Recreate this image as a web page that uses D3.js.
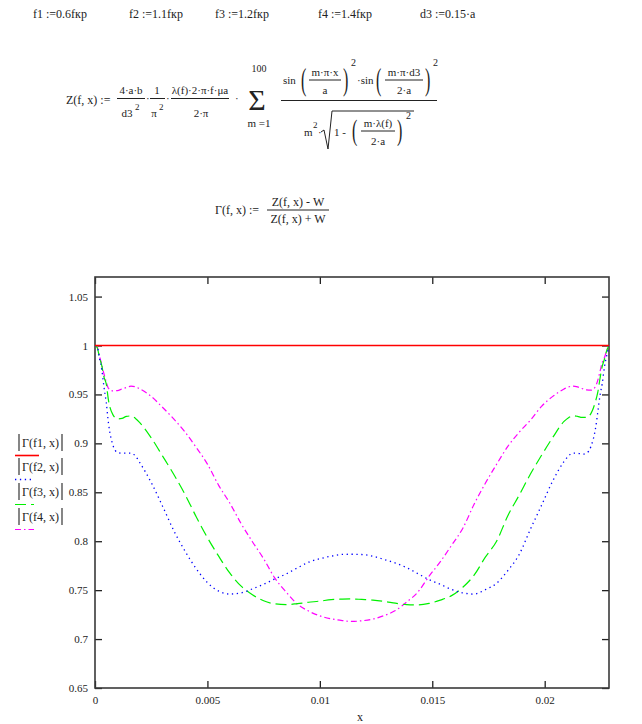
<!DOCTYPE html>
<html>
<head>
<meta charset="utf-8">
<script src="https://cdn.jsdelivr.net/npm/d3@7"></script>
<style>
html,body{margin:0;padding:0;background:#fff;}
svg text{font-family:"Liberation Serif","DejaVu Serif",serif;fill:#222;}
</style>
</head>
<body>
<svg id="c" width="642" height="724"></svg>
<script>
// ---------------- DATA ----------------
const xTicks = [0, 0.005, 0.01, 0.015, 0.02];
const yTicks = [0.65, 0.7, 0.75, 0.8, 0.85, 0.9, 0.95, 1, 1.05];
const xDomain = [0, 0.02286];
const yDomain = [0.65, 1.07];

const seriesNames = ["Γ(f1, x)", "Γ(f2, x)", "Γ(f3, x)", "Γ(f4, x)"];

const xF1 = [0, 0.02286];
const gammaF1 = [1, 1];

const xGrid = [0, 0.0001, 0.0002, 0.0003, 0.0004, 0.0005, 0.0006, 0.0008, 0.0010, 0.0012,
  0.0014, 0.0016, 0.0018, 0.0020, 0.0025, 0.0030, 0.0035, 0.0040, 0.0045, 0.0050,
  0.0055, 0.0060, 0.0065, 0.0070, 0.0075, 0.0080, 0.0085, 0.0090, 0.0095, 0.0100,
  0.0105, 0.0110, 0.01143,
  0.01186, 0.01236, 0.01286, 0.01336, 0.01386, 0.01436, 0.01486, 0.01536, 0.01586, 0.01636,
  0.01686, 0.01736, 0.01786, 0.01836, 0.01886, 0.01936, 0.01986, 0.02036, 0.02086,
  0.02106, 0.02126, 0.02146, 0.02166, 0.02186, 0.02206,
  0.02226, 0.02236, 0.02246, 0.02256, 0.02266, 0.02276, 0.02286];

const gammaF2 = [1.000, 0.9983, 0.9867, 0.9755, 0.9574, 0.9418, 0.9204, 0.898, 0.8908, 0.890,
  0.890, 0.890, 0.887, 0.880, 0.860, 0.836, 0.811, 0.790, 0.772, 0.7577,
  0.749, 0.746, 0.7472, 0.7513, 0.756, 0.7615, 0.7665, 0.7727, 0.7786, 0.7821,
  0.7847, 0.7865, 0.7867,
  0.7864, 0.7847, 0.7813, 0.7777, 0.773, 0.7668, 0.7607, 0.7559, 0.7507, 0.7472,
  0.746, 0.7505, 0.757, 0.770, 0.7862, 0.812, 0.8367, 0.8617, 0.8815,
  0.8872, 0.890, 0.890, 0.889, 0.890, 0.897,
  0.9153, 0.9316, 0.949, 0.9612, 0.9786, 0.9898, 1.0];

const gammaF3 = [1.0, 0.9977, 0.9878, 0.9796, 0.9677, 0.9607, 0.9439, 0.9291, 0.925, 0.9255,
  0.9276, 0.928, 0.9255, 0.9209, 0.9056, 0.8872, 0.8684, 0.848, 0.825, 0.8036,
  0.7847, 0.7673, 0.7541, 0.7454, 0.7391, 0.736, 0.7352, 0.7362, 0.7376, 0.7388,
  0.7403, 0.7408, 0.741,
  0.7405, 0.7398, 0.7385, 0.7367, 0.7352, 0.7349, 0.7364, 0.7398, 0.7444, 0.753,
  0.7653, 0.7837, 0.80, 0.826, 0.8469, 0.8684, 0.8878, 0.9061, 0.9224,
  0.9262, 0.9282, 0.9276, 0.9265, 0.9265, 0.9306,
  0.9429, 0.952, 0.9663, 0.9786, 0.9862, 0.9949, 1.0];

const gammaF4 = [1.0, 0.9985, 0.9888, 0.9806, 0.9709, 0.9628, 0.9561, 0.9536, 0.9539, 0.9556,
  0.9571, 0.9584, 0.9577, 0.9556, 0.948, 0.9369, 0.925, 0.9117, 0.8959, 0.8788,
  0.8571, 0.8388, 0.8179, 0.7995, 0.7821, 0.7622, 0.748, 0.7357, 0.7286, 0.7237,
  0.7207, 0.7189, 0.718,
  0.7187, 0.7204, 0.724, 0.7291, 0.7378, 0.748, 0.7643, 0.7791, 0.7959, 0.8133,
  0.8378, 0.8592, 0.8786, 0.8969, 0.9112, 0.9235, 0.9378, 0.948, 0.9556,
  0.9577, 0.9584, 0.9577, 0.9561, 0.9546, 0.9543,
  0.9582, 0.9643, 0.9735, 0.9827, 0.9878, 0.9949, 1.0];

// ---------------- DRAWING ----------------
const svg = d3.select("#c");

function T(x, y, s, o) {
  o = o || {};
  const t = svg.append("text").attr("x", x).attr("y", y).text(s)
    .attr("font-size", o.size || 12);
  if (o.anchor) t.attr("text-anchor", o.anchor);
  if (o.style) t.attr("font-style", o.style);
  return t;
}
function L(x1, y1, x2, y2, w) {
  svg.append("line").attr("x1", x1).attr("y1", y1).attr("x2", x2).attr("y2", y2)
    .attr("stroke", "#222").attr("stroke-width", w || 1);
}
// tall thin bracket drawn as text scaled vertically
function B(x, yc, s, h) {
  svg.append("text").attr("transform", `translate(${x},${yc}) scale(1,${h})`)
    .attr("x", 0).attr("y", 5).attr("font-size", 16).text(s);
}

// top definitions
T(33, 18, "f1 :=0.6fкр");
T(129, 18, "f2 :=1.1fкр");
T(215, 18, "f3 :=1.2fкр");
T(318, 18, "f4 :=1.4fкр");
T(420, 18, "d3 :=0.15·a");

// Z(f,x) formula
T(66, 104, "Z(f, x) :=");
T(131, 94, "4·a·b", {anchor: "middle", size: 11});
L(117, 98.5, 145, 98.5);
T(127, 117, "d3", {anchor: "middle", size: 11});
T(135, 110, "2", {size: 9});
T(146, 102, "·", {size: 11});
T(157, 94, "1", {anchor: "middle", size: 11});
L(150, 98.5, 165, 98.5);
T(154, 117, "π", {anchor: "middle", size: 11});
T(159, 110, "2", {size: 9});
T(166, 102, "·", {size: 11});
T(200, 94, "λ(f)·2·π·f·μa", {anchor: "middle", size: 11});
L(171, 98.5, 229, 98.5);
T(201, 117, "2·π", {anchor: "middle", size: 11});
T(235, 102, "·", {size: 11});
T(257, 110, "Σ", {anchor: "middle", size: 30});
T(259, 72, "100", {anchor: "middle", size: 10});
T(259, 127, "m =1", {anchor: "middle", size: 11});
// big fraction
L(281, 100.5, 437, 100.5);
T(283, 84, "sin", {size: 11});
B(301, 80, "(", 2.0);
T(325, 76, "m·π·x", {anchor: "middle", size: 11});
L(309, 80, 341, 80);
T(325, 94, "a", {anchor: "middle", size: 11});
B(343, 80, ")", 2.0);
T(351, 66, "2", {size: 10});
T(357, 84, "·sin", {size: 11});
B(376, 80, "(", 2.0);
T(404, 76, "m·π·d3", {anchor: "middle", size: 11});
L(385, 80, 423, 80);
T(404, 94, "2·a", {anchor: "middle", size: 11});
B(425, 80, ")", 2.0);
T(433, 66, "2", {size: 10});
// denominator
T(304, 136, "m", {size: 11});
T(313, 128, "2", {size: 9});
T(318, 136, "·", {size: 11});
svg.append("path").attr("d", "M321,132 L324,130 L328,149 L332,111 L414,111")
  .attr("fill", "none").attr("stroke", "#222").attr("stroke-width", 1);
T(334, 136, "1 -", {size: 11});
B(352, 131, "(", 1.8);
T(378, 127, "m·λ(f)", {anchor: "middle", size: 11});
L(361, 131, 395, 131);
T(378, 145, "2·a", {anchor: "middle", size: 11});
B(397, 131, ")", 1.8);
T(406, 119, "2", {size: 10});

// Γ formula
T(215, 214, "Γ(f, x) :=");
T(298, 206, "Z(f, x) -  W", {anchor: "middle", size: 12});
L(267, 210, 329, 210);
T(298, 223, "Z(f, x) + W", {anchor: "middle", size: 12});

// ---------------- PLOT ----------------
const P = {left: 95, right: 609, top: 277, bottom: 688};
const x = d3.scaleLinear().domain(xDomain).range([P.left, P.right]);
const y = d3.scaleLinear().domain(yDomain).range([P.bottom, P.top]);

svg.append("defs").append("clipPath").attr("id", "clip")
  .append("rect").attr("x", P.left).attr("y", P.top - 2)
  .attr("width", P.right - P.left).attr("height", P.bottom - P.top + 2);

const fmt = d => String(d);
function styleAxis(g) {
  g.select(".domain").remove();
  g.selectAll(".tick line").attr("stroke", "#222").attr("stroke-width", 1.3);
  g.selectAll(".tick text").attr("font-family", "Liberation Serif, serif")
    .attr("font-size", 11).attr("fill", "#333");
}
svg.append("g").attr("transform", `translate(0,${P.bottom})`)
  .call(d3.axisBottom(x).tickValues(xTicks).tickFormat(fmt).tickSize(-7).tickPadding(8))
  .call(styleAxis);
svg.append("g").attr("transform", `translate(0,${P.top})`)
  .call(d3.axisTop(x).tickValues(xTicks).tickFormat("").tickSize(-7))
  .call(styleAxis);
svg.append("g").attr("transform", `translate(${P.left},0)`)
  .call(d3.axisLeft(y).tickValues(yTicks).tickFormat(fmt).tickSize(-7).tickPadding(7))
  .call(styleAxis);
svg.append("g").attr("transform", `translate(${P.right},0)`)
  .call(d3.axisRight(y).tickValues(yTicks).tickFormat("").tickSize(-7))
  .call(styleAxis);

svg.append("rect").attr("x", P.left).attr("y", P.top)
  .attr("width", P.right - P.left).attr("height", P.bottom - P.top)
  .attr("fill", "none").attr("stroke", "#3a3a3a").attr("stroke-width", 1.6);

const styles = [
  {color: "#ff0000", dash: null, width: 1.6},
  {color: "#0000ff", dash: "1.3,3.6", width: 1.3},
  {color: "#00f000", dash: "11,5", width: 1.2},
  {color: "#ff00ff", dash: "6,3,1.5,3", width: 1.2}
];
const seriesData = [
  xF1.map((v, i) => [v, gammaF1[i]]),
  xGrid.map((v, i) => [v, gammaF2[i]]),
  xGrid.map((v, i) => [v, gammaF3[i]]),
  xGrid.map((v, i) => [v, gammaF4[i]])
];
const line = d3.line().x(d => x(d[0])).y(d => y(d[1])).curve(d3.curveMonotoneX);
const gl = svg.append("g").attr("clip-path", "url(#clip)");
seriesData.slice().reverse().forEach((data, j) => {
  const i = seriesData.length - 1 - j;
  const p = gl.append("path").datum(data).attr("d", line)
    .attr("fill", "none").attr("stroke", styles[i].color)
    .attr("stroke-width", styles[i].width);
  if (styles[i].dash) p.attr("stroke-dasharray", styles[i].dash);
});

// axis title
T(360, 721, "x", {anchor: "middle", size: 12});

// legend
const legRows = [443, 467, 492, 517];
seriesNames.forEach((name, i) => {
  const cy = legRows[i];
  L(19, cy - 9, 19, cy + 8, 1.1);
  T(22, cy + 4, name, {size: 12});
  L(62, cy - 9, 62, cy + 8, 1.1);
  const l = svg.append("line").attr("x1", 15).attr("x2", i === 0 ? 39 : 34)
    .attr("y1", cy + 12.5).attr("y2", cy + 12.5)
    .attr("stroke", styles[i].color).attr("stroke-width", styles[i].width);
  if (styles[i].dash) l.attr("stroke-dasharray", styles[i].dash);
});
</script>
</body>
</html>
